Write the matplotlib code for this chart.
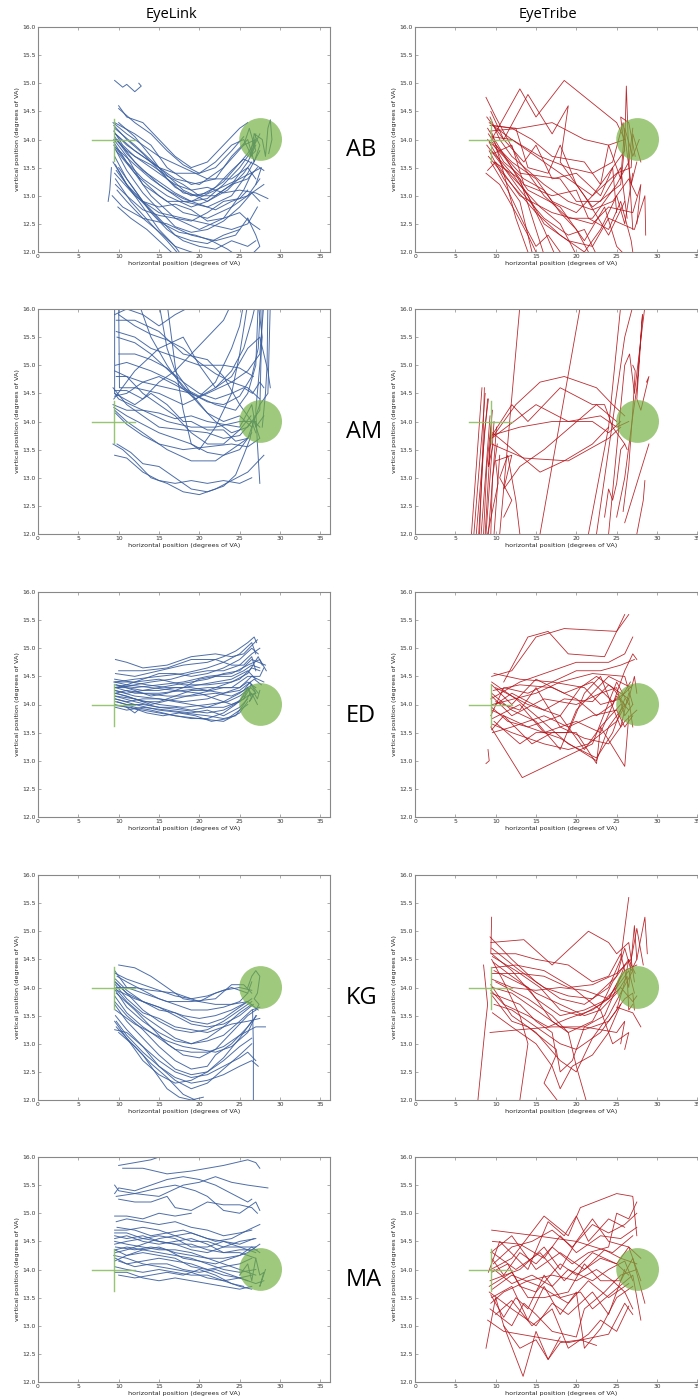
import matplotlib
matplotlib.use("Agg")
import matplotlib.pyplot as plt
from matplotlib.patches import Ellipse

# ---- data: gaze traces in degrees of visual angle, (x, y) per sample ----
subjects = ["AB", "AM", "ED", "KG", "MA"]
trackers = ["EyeLink", "EyeTribe"]

x_ticks = [0, 5, 10, 15, 20, 25, 30, 35]
y_ticks = [12.0, 12.5, 13.0, 13.5, 14.0, 14.5, 15.0, 15.5, 16.0]

fix_cross = [(6.7, 12.0, 14.0), (9.4, 13.62, 14.37)]   # (horiz x0, x1, y), (vert x, y0, y1)
target_xy = (27.6, 14.0)
target_size = (5.3, 0.76)

ab_eyelink = [
    [(9.6, 14.1), (11, 13.9), (14, 13.6), (17, 13.3), (20, 13.2), (23, 13.5), (25.5, 13.9), (27, 14.0), (26.5, 13.8), (27.5, 14.1)],
    [(9.5, 14.2), (12, 13.9), (15, 13.5), (18, 13.1), (21, 12.9), (24, 13.2), (26, 13.6), (27, 13.9)],
    [(9.8, 14.0), (12, 13.6), (15, 13.2), (18, 12.9), (21, 12.8), (24, 13.0), (26, 13.4), (27.5, 13.8)],
    [(9.4, 13.9), (11.5, 13.5), (14, 13.0), (17, 12.6), (20, 12.4), (23, 12.6), (25.5, 13.1), (26.5, 13.4)],
    [(9.3, 13.6), (11, 13.2), (13, 12.8), (15, 12.4), (17, 12.1), (18, 11.9)],
    [(9.6, 13.3), (11.5, 12.9), (14, 12.5), (16, 12.2), (17.5, 11.95)],
    [(10, 14.6), (11, 14.4), (13, 14.3), (15, 14.0), (17, 13.7), (19, 13.5), (21, 13.6), (23, 13.9), (25, 14.2), (26, 14.3)],
    [(9.5, 14.3), (12, 14.1), (14, 13.9), (16, 13.5), (19, 13.2), (22, 13.3), (24, 13.7), (26, 14.0), (26.8, 13.6), (27.5, 13.9), (26.8, 14.1)],
    [(9.7, 13.8), (12, 13.4), (15, 13.0), (18, 12.7), (21, 12.6), (24, 12.8), (26, 13.0), (27.5, 13.3)],
    [(9.5, 13.4), (12, 13.0), (15, 12.7), (18, 12.6), (21, 12.5), (24, 12.4), (26, 12.5), (27.2, 12.8)],
    [(9.2, 13.0), (10.5, 12.8), (13, 12.6), (16, 12.5), (19, 12.3), (22, 12.2), (24.5, 12.3), (26, 12.6)],
    [(9.4, 14.0), (11, 13.7), (13, 13.2), (16, 12.9), (19, 12.9), (22, 13.1), (25, 13.3), (27.7, 13.5), (27, 13.2)],
    [(9.6, 14.1), (12, 13.8), (15, 13.5), (17, 13.4), (20, 13.4), (22, 13.6), (24, 13.9), (25.5, 14.0), (26.5, 13.7), (27, 14.1)],
    [(9.5, 13.7), (11, 13.3), (13, 12.9), (15, 12.6), (17, 12.3), (19, 12.2), (21, 12.15), (23, 12.3), (25, 12.4)],
    [(10, 13.5), (12, 13.1), (14, 12.7), (16, 12.4), (18, 12.2), (20, 12.1), (22, 12.05), (24, 12.2), (26, 12.1), (27, 12.2)],
    [(9.8, 13.1), (11, 12.9), (13, 12.6), (15.5, 12.3), (17, 12.1), (19, 12.0), (21, 11.9)],
    [(9.3, 14.3), (11, 14.1), (13, 13.9), (15, 13.7), (18, 13.5), (21, 13.3), (24, 13.3), (26, 13.5), (27, 13.3)],
    [(9.4, 13.95), (11, 13.6), (13, 13.3), (16, 13.0), (19, 12.8), (21, 12.9), (23.5, 13.1), (25.5, 13.4), (26.5, 13.6)],
    [(8.7, 12.9), (8.9, 13.1), (9.1, 13.5)],
    [(9.5, 15.05), (10.5, 14.93), (11, 14.98), (12, 14.85), (12.8, 14.95), (12.5, 15.0)],
    [(10, 14.55), (12, 14.3), (14, 14.1), (16, 13.8), (18, 13.55), (20, 13.4), (22, 13.5), (24, 13.8), (25.5, 14.05)],
    [(9.6, 13.2), (11, 13.0), (13, 12.75), (15, 12.65), (17, 12.6), (19, 12.55), (21, 12.7), (23, 12.9), (25, 12.95), (26, 13.1)],
    [(9.5, 14.05), (11, 13.75), (13, 13.45), (15, 13.25), (17, 13.05), (19, 12.9), (21, 12.95), (23, 13.2), (25, 13.5), (26.5, 13.8)],
    [(9.7, 13.85), (12, 13.55), (14, 13.3), (16, 13.1), (18, 12.95), (20, 12.85), (22, 12.75), (24, 12.9), (26, 13.0), (28, 13.2)],
    [(9.9, 12.8), (11.5, 12.6), (13.5, 12.4), (15, 12.2), (16.5, 12.0)],
    [(25.5, 13.9), (26.2, 14.2), (27, 13.8), (26.3, 13.7), (26.8, 14.1), (27.8, 14.0), (28.2, 13.7), (28.5, 14.2), (28.8, 14.35), (29, 14.0), (28.6, 13.75)],
    [(9.6, 13.55), (11, 13.2), (13, 12.9), (15, 12.8), (17, 12.85), (19, 12.75), (21, 12.55), (23, 12.6), (25, 12.7), (26.5, 12.5), (27.5, 12.4)],
    [(9.4, 14.15), (10.5, 13.9), (12, 13.7), (14, 13.55), (16, 13.35), (18, 13.2), (20, 13.0), (22, 13.0), (24, 13.2), (26, 13.3), (27.2, 13.5)],
    [(26, 12.6), (27, 12.3), (27.5, 12.1), (26.8, 12.0)],
    [(9.5, 13.85), (11, 13.45), (13, 13.05), (15, 12.75), (17, 12.45), (19, 12.35), (21, 12.4), (23, 12.55), (25, 12.8), (26.5, 13.05), (27.5, 12.9)],
    [(9.4, 14.25), (11, 14.0), (13, 13.75), (15, 13.45), (17, 13.15), (19, 13.0), (21, 13.05), (23, 13.25), (24.5, 13.5), (26, 13.75), (26.8, 13.95)],
    [(9.7, 13.45), (11.5, 13.1), (13.5, 12.8), (15.5, 12.5), (17.5, 12.35), (19.5, 12.3), (21.5, 12.2), (23.5, 12.05), (24.5, 11.95)],
    [(10, 14.3), (12, 14.05), (14, 13.7), (16, 13.3), (18, 13.05), (20, 13.0), (22, 13.15), (24, 13.45), (25.5, 13.65), (27, 13.55), (28, 13.45)],
    [(9.6, 14.0), (11, 13.8), (13, 13.6), (15, 13.4), (17, 13.2), (19, 13.1), (21, 13.15), (23, 13.05), (25, 13.1), (27, 13.05), (28.5, 12.95)],
]

ab_eyetribe = [
    [(8.8, 14.75), (10, 14.4), (13, 13.6), (16, 13.0), (19, 12.6), (22, 12.6), (25, 13.2), (26.5, 13.6), (27, 14.2)],
    [(9, 14.2), (12, 13.5), (14, 13.0), (16, 12.4), (17.5, 11.9)],
    [(9.2, 13.8), (11, 13.3), (13, 12.9), (14.5, 12.0)],
    [(9.5, 14.0), (13, 14.9), (15, 14.4), (18.5, 15.05), (25, 14.3), (26, 14.0)],
    [(9.1, 13.7), (12, 13.2), (15, 12.7), (18, 12.3), (21, 12.0), (23, 12.4), (25, 13.0), (26, 12.5), (27, 13.4)],
    [(9.3, 14.25), (12.5, 14.2), (14, 13.5), (16.5, 13.4), (18, 13.9), (20, 13.2), (22, 12.8), (25.5, 13.2), (26, 13.9), (26.2, 14.95), (26.6, 13.3), (27, 12.4)],
    [(8.9, 13.9), (11, 13.5), (15.5, 12.8), (18, 12.5), (20, 11.95)],
    [(9.4, 14.5), (11, 14.0), (14, 14.8), (17, 14.1), (19, 14.6), (18, 13.6), (21, 13.0), (24, 12.3), (26, 12.9)],
    [(9.0, 13.45), (10, 13.6), (13, 13.0), (17, 12.7), (22, 12.5), (24, 12.8), (27, 12.7), (28, 13.2), (27.5, 12.5)],
    [(9.6, 14.1), (11, 13.4), (12.5, 12.6), (14, 12.0)],
    [(9.8, 13.6), (13, 13.3), (15, 12.4), (16, 11.95)],
    [(9.2, 14.3), (12, 14.0), (16, 13.6), (19, 13.3), (22, 13.0), (25, 13.4), (26.8, 13.5), (27, 14.1), (28, 13.6)],
    [(9.0, 14.0), (11, 13.7), (14, 13.1), (18, 12.8), (21, 12.2), (23.5, 12.8), (25, 12.1), (26, 11.95)],
    [(10, 13.9), (12, 13.6), (15, 13.3), (17, 12.9), (20, 12.7), (22, 13.0), (24, 13.4), (26, 13.8), (25.5, 14.4), (26.5, 14.3), (27.3, 13.7)],
    [(9.3, 14.15), (13, 14.2), (17, 14.3), (21, 14.0), (24, 13.9), (26, 14.0)],
    [(9.5, 13.8), (12, 13.4), (14, 13.0), (16, 12.5), (19, 12.2), (22, 12.1), (24, 12.6), (27.2, 12.4), (28.5, 13.0), (28.6, 12.3)],
    [(9.1, 14.1), (10.5, 13.8), (13, 13.4), (18, 13.3), (20, 12.9), (23, 12.9), (25.5, 13.5), (26.3, 12.6)],
    [(9.4, 13.6), (11.5, 13.1), (13.5, 12.5), (15, 12.1), (16.5, 12.3), (18, 12.0)],
    [(8.9, 14.4), (11, 14.0), (13.5, 13.6), (15, 13.9), (17, 13.3), (20, 13.4), (23, 13.0), (24.5, 13.5), (25, 12.7)],
    [(9.6, 14.25), (12, 14.2), (14.5, 14.0), (17, 13.7), (21, 13.6), (23, 13.2), (24, 13.9), (25.5, 13.3), (26, 14.2), (27, 13.7), (27.8, 14.0)],
    [(9.2, 13.95), (11, 13.5), (13, 13.1), (16, 12.6), (19, 12.3), (21, 12.4), (22.5, 11.95)],
    [(9.7, 13.75), (12, 13.9), (13.5, 13.2), (17, 13.0), (20, 13.1), (21.5, 12.6), (24, 12.4), (25.5, 12.9), (26.8, 12.2), (27, 12.0)],
    [(9.3, 14.4), (10.5, 14.0), (12, 13.7), (16, 13.2), (19, 12.9), (22, 12.75), (24.5, 12.9), (26.5, 13.3), (27.5, 13.0)],
    [(9.6, 13.95), (11, 13.6), (13.5, 13.3), (16, 13.1), (18, 12.7), (20, 12.4), (21.5, 12.0)],
    [(8.8, 13.4), (10.5, 13.2), (12.5, 12.7), (14, 12.3), (15, 12.0)],
    [(9.5, 14.05), (12, 14.0), (15.5, 13.7), (19, 13.5), (22, 13.4), (24.5, 13.6), (25.8, 14.3), (26.8, 13.2), (27.5, 13.6)],
]

am_eyelink = [
    [(9.5, 16.1), (9.5, 14.5), (10, 14.4), (13, 14.2), (16, 14.0), (19, 13.9), (22, 13.9), (25, 14.0), (27, 14.0)],
    [(10, 16.1), (10.1, 14.6), (12, 14.6), (15, 14.5), (18, 14.3), (21, 14.5), (24, 14.7), (26, 14.9), (27.5, 15.2), (28, 16.1)],
    [(9.7, 15.8), (12, 15.8), (15, 15.6), (18, 15.2), (21, 15.1), (23, 14.8), (25, 14.3), (26.5, 14.0), (27, 13.8)],
    [(9.8, 15.5), (12, 15.4), (14, 15.2), (17, 14.8), (20, 14.3), (22, 14.0), (24, 13.8), (26, 13.9), (27.5, 14.2), (27.8, 16.1)],
    [(9.6, 15.0), (11, 15.05), (14, 14.9), (17, 14.7), (19.5, 14.4), (22, 14.6), (24, 14.9), (25.5, 15.3), (26.5, 15.8), (27, 16.1)],
    [(9.3, 14.6), (11, 14.3), (13, 14.1), (15, 13.9), (18, 13.85), (21, 13.8), (23, 13.7), (25, 13.75), (26.5, 14.0)],
    [(9.5, 14.2), (11, 14.0), (13, 13.8), (16, 13.5), (19, 13.3), (22, 13.3), (24, 13.5), (26, 13.7), (27.5, 14.3), (28.5, 14.5), (28.8, 16.1)],
    [(9.3, 13.6), (10.5, 13.5), (12, 13.3), (14, 13.0), (16, 12.9), (18, 12.75), (20, 12.7), (22, 12.8), (24, 12.95), (26, 13.1), (28, 13.4)],
    [(9.5, 13.4), (11, 13.35), (13, 13.1), (15, 12.95), (17, 12.9), (19, 12.95), (21, 12.9), (23, 12.95), (25, 12.9), (26.5, 13.0)],
    [(9.7, 14.8), (11, 14.8), (13, 14.7), (16, 14.6), (19, 14.5), (22, 14.3), (24.5, 14.2), (26, 14.5), (27, 15.0), (27.3, 16.1)],
    [(9.5, 15.9), (11, 16.0), (13, 15.9), (15, 15.7), (17, 15.9), (19, 16.05)],
    [(16, 16.1), (17, 15.0), (18, 14.2), (19, 13.6), (20, 13.5), (22, 13.9), (24, 14.5), (25, 15.2), (26, 16.1)],
    [(9.4, 14.4), (12, 14.9), (15, 15.3), (18, 15.5), (20, 15.0), (22, 14.6), (24, 14.8), (26, 15.3), (27.5, 15.5), (28.5, 14.9), (28.8, 14.6)],
    [(9.6, 14.15), (11, 13.95), (13, 13.75), (15, 13.6), (18, 13.5), (21, 13.55), (24, 13.6), (26, 13.55), (27.5, 13.7), (26.8, 14.0), (27.5, 13.9)],
    [(9.5, 14.5), (12, 14.3), (14, 14.5), (16, 14.3), (18, 14.0), (19, 14.0), (21, 13.85), (23, 13.85), (24.5, 13.65), (26, 13.7)],
    [(9.5, 14.55), (11, 14.55), (13, 14.4), (15, 14.7), (17, 14.9), (19, 15.2), (21, 15.5), (23, 15.8), (24, 16.1)],
    [(27.5, 12.9), (27.2, 13.6), (27.0, 14.2), (27.5, 15.0), (27.8, 15.5), (27.3, 16.1)],
    [(28.5, 16.1), (28.4, 15.0), (28.2, 14.5), (27.8, 13.9)],
    [(9.8, 13.6), (11.5, 13.45), (13, 13.25), (15, 13.2), (17, 13.0), (19, 12.8), (21, 12.75), (23, 12.85), (24.5, 13.05), (25.5, 13.4), (26.3, 13.7), (26.8, 14.1)],
    [(9.3, 14.3), (11, 14.2), (13, 14.2), (15, 14.15), (17, 14.05), (19, 14.1), (21, 14.0), (23, 13.95), (25, 13.9), (26.5, 14.3), (27, 13.9), (28, 14.1)],
    [(10, 15.2), (12, 15.2), (14, 15.1), (16, 14.95), (18, 14.7), (20, 14.5), (22, 14.4), (24, 14.5), (25.5, 14.6), (26.6, 14.5), (27.5, 14.7), (28, 14.6)],
    [(9.5, 14.9), (11, 14.8), (13, 14.5), (15, 14.3), (17, 14.1), (19, 13.8), (21, 13.6), (23, 13.6), (25, 13.85), (26.4, 14.1)],
    [(9.7, 15.6), (12, 15.5), (14, 15.3), (17, 15.15), (20, 15.0), (23, 15.0), (25, 14.95), (26.7, 14.8)],
    [(12.5, 16.1), (14, 15.5), (16, 15.0), (18, 14.6), (20, 14.45), (22, 14.7), (24, 15.3), (25, 15.7), (25.5, 16.1)],
    [(9.5, 14.45), (11, 14.5), (13, 14.7), (15, 14.8), (17, 14.65), (19, 14.5), (21, 14.35), (23, 14.3), (25, 14.45), (26.5, 14.8), (27.3, 15.3), (27.6, 16.1)],
    [(9.4, 14.25), (11, 14.1), (13, 13.95), (15, 13.8), (17, 13.7), (19, 13.6), (21, 13.45), (23, 13.4), (25, 13.5), (26.5, 13.8)],
    [(10, 15.9), (12, 15.7), (14, 15.55), (16, 15.45), (18, 15.3), (20, 15.05), (22, 14.85), (24, 14.7), (26, 14.6), (27.5, 14.4)],
    [(15, 16.1), (16, 15.3), (17, 14.9), (19, 14.5), (21, 14.15), (23, 14.0), (25, 14.1), (26.5, 13.9)],
]

am_eyetribe = [
    [(7.0, 12), (8.3, 14.6)],
    [(7.3, 12), (8.7, 14.5)],
    [(7.6, 12), (9.0, 14.4)],
    [(7.9, 12), (8.6, 13.8), (9.1, 14.4)],
    [(8.2, 12), (9.3, 14.1)],
    [(8.5, 12), (8.9, 13.2), (9.6, 14.2)],
    [(8.8, 12), (9.8, 14.0)],
    [(9.1, 12), (10.1, 13.9)],
    [(9.4, 12), (9.6, 13.0), (10.2, 13.6)],
    [(9.8, 12), (10.5, 13.4)],
    [(8.0, 12), (8.4, 13.5), (8.6, 14.6)],
    [(8.7, 12), (9.5, 14.0), (9.1, 13.2), (9.7, 13.6)],
    [(9.0, 12), (10.3, 12.9), (10.0, 13.3)],
    [(9.5, 13.7), (12.5, 14.3), (15.5, 14.7), (18.5, 14.8), (22.5, 14.6), (24.5, 14.3), (26, 14.1)],
    [(9.5, 13.7), (15, 14.3), (19, 14.0), (23, 14.1), (25, 13.9), (26.5, 14.0)],
    [(9.4, 13.75), (13, 13.9), (17, 14.0), (22, 14.0), (24, 13.8), (25.5, 14.0)],
    [(9.6, 13.8), (15.5, 13.1), (18.5, 13.3), (22, 13.6), (24, 13.9)],
    [(9.5, 13.6), (13.5, 13.35), (19, 13.3), (24, 13.7), (25.5, 13.9)],
    [(10, 13.3), (12, 13.4), (11, 12.8), (13, 13.2), (16, 13.5), (22.5, 14.3), (25, 14.0)],
    [(9.3, 13.7), (12, 14.3), (14, 14.0), (18, 14.6), (22, 14.3), (23.5, 14.3), (24.5, 13.9), (26, 13.6)],
    [(10.5, 12.0), (13, 16.05)],
    [(11, 12.3), (12, 12.6), (10.5, 13.0), (11.5, 13.4), (12.5, 12.6), (13, 12.0)],
    [(15.5, 12.0), (20.5, 16.05)],
    [(21.5, 12.0), (24, 13.9), (25.5, 16.05)],
    [(22.5, 12.0), (25, 14.5), (26, 15.5), (27, 16.05)],
    [(24, 12.0), (25, 13.5), (26, 15.0), (26.6, 15.2), (27.2, 14.5), (28.5, 16.05)],
    [(25, 12.3), (26, 13.0), (27, 14.1), (27.5, 14.6), (28.2, 15.9), (27.5, 14.4), (28, 14.2), (29, 14.8), (28.7, 14.7)],
    [(26, 12.2), (27.5, 12.9), (29, 13.6)],
    [(27.5, 12.0), (28.3, 12.6), (28.5, 12.95)],
    [(23.5, 12.3), (24, 12.8), (24.5, 12.6), (25, 12.9), (25.5, 13.5), (26, 13.6), (26.3, 13.5)],
    [(25.8, 12.4), (26.5, 13.2), (27, 14.2), (27.3, 14.9), (27, 15.0)],
]

ed_eyelink = [
    [(9.6, 14.8), (11, 14.75), (13, 14.65), (16, 14.7), (19, 14.85), (22, 14.9), (24, 14.85), (25.5, 14.9), (26.5, 15.05), (27.2, 15.15)],
    [(9.6, 14.4), (12, 14.45), (15, 14.5), (18, 14.55), (21, 14.65), (23, 14.75), (25, 14.9), (26.5, 15.1), (27, 14.9)],
    [(9.5, 14.35), (12, 14.3), (15, 14.35), (18, 14.4), (21, 14.5), (24, 14.55), (26, 14.7), (27.5, 14.8), (28.3, 14.6)],
    [(9.6, 14.3), (12, 14.2), (15, 14.2), (18, 14.25), (21, 14.3), (24, 14.3), (26, 14.5), (27.5, 14.5), (28, 14.65)],
    [(9.5, 14.25), (12, 14.15), (15, 14.1), (18, 14.05), (21, 14.1), (23, 14.2), (25, 14.3), (26.5, 14.5), (28, 14.4)],
    [(9.7, 14.2), (12, 14.1), (15, 14.0), (18, 13.95), (21, 14.0), (23.5, 14.05), (25, 14.15), (26.4, 14.3), (27, 14.2)],
    [(9.5, 14.15), (12, 14.05), (15, 13.95), (18, 13.9), (21, 13.85), (23, 13.9), (25, 14.05), (26, 14.3), (26.5, 14.1)],
    [(9.6, 14.1), (12, 14.0), (15, 13.9), (18, 13.85), (21, 13.8), (23, 13.75), (24.5, 13.8), (25.5, 14.0), (26.3, 14.2)],
    [(9.8, 14.05), (12, 13.95), (14, 13.9), (17, 13.8), (20, 13.75), (23, 13.7), (25, 13.85), (26, 14.05)],
    [(11, 13.95), (12, 13.85), (12.4, 13.9)],
    [(9.5, 14.3), (11, 14.35), (14, 14.3), (17, 14.25), (20, 14.2), (22, 14.1), (24, 14.0), (25.5, 14.1), (26.5, 14.35), (27.3, 14.2)],
    [(9.4, 14.4), (12, 14.4), (15, 14.45), (18, 14.35), (21, 14.35), (24, 14.4), (26, 14.55), (27.3, 14.85), (27.8, 14.7)],
    [(9.6, 14.55), (12, 14.5), (15, 14.6), (18, 14.7), (21, 14.75), (23, 14.85), (24.5, 14.95), (26, 15.1), (26.8, 15.2), (27.1, 15.1)],
    [(10, 14.6), (13, 14.6), (16, 14.65), (19, 14.8), (22, 14.8), (24, 14.7), (25.5, 14.7), (26.5, 14.85), (27, 14.6)],
    [(9.6, 14.2), (11, 14.25), (13, 14.2), (16, 14.15), (19, 14.15), (22, 14.2), (24, 14.15), (25.5, 14.25), (26.3, 14.4), (27, 14.2), (26, 14.15)],
    [(9.5, 14.1), (11, 14.05), (13, 14.1), (15, 14.1), (17, 14.05), (19, 14.0), (21, 13.95), (23, 13.95), (25, 14.05), (26.5, 14.2), (27.2, 14.0)],
    [(9.7, 14.35), (12, 14.25), (14, 14.15), (16, 14.2), (18, 14.3), (20, 14.45), (22, 14.5), (24, 14.5), (25.5, 14.6), (26.5, 14.7), (27.5, 14.65)],
    [(9.5, 14.0), (11, 13.95), (13, 13.9), (15, 13.85), (17, 13.8), (19, 13.75), (21, 13.75), (23, 13.85), (24.5, 14.0), (25.5, 14.15)],
    [(9.9, 14.3), (12, 14.35), (14, 14.4), (16.5, 14.45), (19, 14.55), (21, 14.6), (23, 14.6), (25, 14.7), (26.5, 14.9), (27.5, 15.0)],
    [(9.5, 14.45), (11.5, 14.4), (13.5, 14.35), (16, 14.3), (18, 14.3), (20, 14.35), (22, 14.4), (24, 14.45), (26, 14.6), (27, 14.45)],
    [(9.6, 14.25), (11, 14.2), (13, 14.25), (15, 14.3), (17, 14.35), (19, 14.4), (21, 14.45), (23, 14.55), (25, 14.6), (26.5, 14.8), (28.2, 14.7)],
    [(25.5, 14.1), (26, 14.3), (26.6, 14.15), (26.2, 14.05), (26.8, 14.2), (27.2, 14.1), (27.5, 14.25)],
    [(9.6, 14.15), (12, 14.1), (14, 14.0), (17, 14.1), (20, 14.2), (23, 14.3), (25, 14.3), (26, 14.4), (27, 14.3)],
    [(9.6, 13.95), (11, 13.9), (13, 13.95), (16, 13.9), (19, 13.85), (21, 13.9), (23, 13.8), (25, 13.95), (26, 14.1)],
    [(9.5, 14.3), (11, 14.3), (13, 14.25), (15, 14.25), (17, 14.3), (19, 14.3), (21, 14.25), (23, 14.35), (25, 14.45), (26.5, 14.65), (27.5, 14.6)],
    [(9.6, 14.05), (11, 14.0), (13, 14.0), (15, 13.95), (17, 13.95), (19, 13.9), (21, 13.95), (23, 14.05), (25, 14.2), (26.5, 14.35)],
    [(9.5, 14.2), (11, 14.15), (13, 14.05), (15, 14.05), (17, 14.15), (19, 14.25), (21, 14.25), (23, 14.2), (25, 14.25), (26.8, 14.45), (27.7, 14.35)],
    [(9.5, 14.4), (11, 14.35), (13, 14.45), (15, 14.55), (17, 14.55), (19, 14.5), (21, 14.55), (23, 14.65), (25, 14.8), (26.5, 15.0), (27.3, 14.9)],
    [(9.7, 13.98), (11.5, 13.95), (13.5, 13.85), (15.5, 13.8), (17.5, 13.85), (19.5, 13.8), (21.5, 13.7), (23.5, 13.75), (25, 13.9), (26, 14.0)],
]

ed_eyetribe = [
    [(9.5, 14.5), (12, 14.6), (15, 15.2), (18.5, 15.35), (25, 15.3), (26.5, 15.6)],
    [(11, 14.4), (14, 15.2), (16.5, 15.3), (19, 14.9), (23.5, 14.85), (25, 15.3), (26, 15.6)],
    [(9.4, 14.1), (13, 14.4), (17, 14.6), (20, 14.75), (24, 14.75), (26, 14.9), (27, 15.2)],
    [(9.4, 13.6), (13.3, 12.7), (22, 13.3), (25, 14.4), (26.5, 14.0)],
    [(9.6, 14.0), (15, 14.2), (18, 14.4), (22, 14.55), (26, 14.5), (27, 14.0)],
    [(9.5, 13.9), (14, 13.6), (18, 13.4), (22.5, 13.0), (24, 13.6), (26, 14.0)],
    [(10, 14.3), (14, 14.0), (18, 13.8), (21, 13.2), (23, 13.6), (26, 12.9), (26.5, 13.8)],
    [(9.5, 14.2), (12, 13.9), (15, 13.7), (18, 13.2), (20, 13.9), (24, 14.5), (26.8, 14.3)],
    [(9.8, 13.7), (13, 13.3), (15, 13.5), (19, 13.5), (21, 14.2), (23, 14.5), (25.5, 13.6), (26.5, 14.2)],
    [(9.5, 14.15), (12, 13.8), (16, 14.1), (20, 14.0), (23, 14.2), (25, 14.3), (26, 13.8), (27, 14.0)],
    [(9.4, 13.8), (11, 14.3), (14, 14.2), (17, 14.4), (21, 14.3), (23, 14.0), (25.5, 14.1), (26.7, 14.4)],
    [(9.6, 13.5), (12, 13.6), (16, 13.8), (19, 13.6), (22, 13.8), (25, 13.9), (26, 13.6), (27, 13.8)],
    [(10, 14.05), (13, 13.9), (15, 14.3), (18, 13.6), (21, 13.4), (24, 13.3), (26, 13.7), (27.5, 13.9)],
    [(9.5, 14.4), (12.5, 14.1), (15, 13.8), (19, 13.3), (22.5, 13.05), (24.5, 13.5), (26, 14.1)],
    [(9.6, 13.65), (12, 13.5), (16, 13.3), (19, 13.2), (21.5, 13.3), (25, 13.7), (26.5, 14.1), (27, 13.6)],
    [(9.7, 14.25), (13, 14.35), (17, 14.3), (20, 14.1), (22.5, 13.8), (24.5, 14.0), (25.5, 14.4), (26, 14.6), (27, 14.9), (27.5, 14.8)],
    [(9.5, 13.95), (11.5, 13.7), (14, 13.6), (18, 13.8), (20.5, 14.3), (22.5, 14.5), (24.5, 14.3), (26, 14.0)],
    [(9.8, 14.55), (13, 14.45), (17, 14.4), (20, 14.6), (23, 14.6), (25.5, 14.7), (27.2, 14.8)],
    [(9.05, 13.2), (9.2, 13.0), (8.8, 12.95)],
    [(9.5, 13.55), (11, 13.8), (14.5, 13.3), (17, 13.5), (20, 13.5), (22.5, 12.95), (23, 13.6), (25.5, 14.0)],
    [(10, 14.0), (12, 14.2), (16, 13.9), (18.5, 14.1), (22, 14.05), (24, 14.35), (26.5, 14.1), (27.2, 14.5), (27.5, 14.2)],
    [(9.5, 14.35), (12, 14.0), (15, 14.45), (18.5, 14.2), (22, 14.4), (24.5, 14.05), (26, 14.2), (27, 14.35)],
    [(9.6, 13.75), (13, 14.0), (16, 13.5), (20, 13.7), (23, 13.5), (25, 14.15), (26.5, 13.9)],
]

kg_eyelink = [
    [(9.5, 14.3), (11, 14.0), (13, 13.9), (16, 13.75), (19, 13.75), (22, 13.8), (24, 14.05), (25.5, 14.05), (26.5, 13.9)],
    [(10, 14.4), (12, 14.35), (14, 14.2), (16, 14.0), (18, 13.8), (20, 13.75), (22, 13.9), (24, 14.0), (26, 13.9)],
    [(9.6, 14.1), (11, 13.9), (13, 13.6), (15, 13.4), (17, 13.25), (19, 13.2), (21, 13.25), (23, 13.4), (25, 13.6), (26.5, 13.75)],
    [(9.5, 14.0), (11, 13.75), (13, 13.5), (15, 13.3), (17, 13.1), (19, 13.0), (21, 13.1), (23, 13.3), (25, 13.55), (26.5, 13.7)],
    [(9.7, 13.9), (12, 13.6), (14, 13.3), (16, 13.0), (18, 12.8), (20, 12.75), (22, 12.9), (24, 13.2), (26, 13.5), (27, 13.6)],
    [(9.5, 13.7), (11, 13.4), (13, 13.1), (15, 12.8), (17, 12.55), (19, 12.45), (21, 12.5), (23, 12.75), (25, 13.1), (26.5, 13.4)],
    [(9.6, 13.5), (11, 13.25), (13, 12.95), (15, 12.6), (17, 12.35), (19, 12.2), (21, 12.3), (23, 12.55), (25, 12.8), (26.5, 13.0)],
    [(9.7, 13.3), (11, 13.1), (13, 12.8), (14.5, 12.5), (16, 12.2), (17.5, 12.05), (19, 12.0), (20.5, 12.05)],
    [(9.5, 13.25), (11, 13.2), (13, 12.95), (15, 12.7), (17, 12.5), (19, 12.4), (21, 12.45), (23, 12.6), (25, 12.75), (26, 12.85), (27, 12.7)],
    [(9.8, 14.2), (11, 14.1), (13, 13.95), (15, 13.8), (17, 13.7), (19, 13.6), (21, 13.6), (23, 13.65), (25, 13.75), (26, 13.9), (26.5, 14.1)],
    [(26.7, 11.95), (26.7, 13.0), (26.6, 13.6)],
    [(9.6, 14.05), (11, 13.8), (13, 13.55), (15, 13.45), (17, 13.3), (19, 13.25), (21, 13.2), (23, 13.3), (24, 13.35), (26, 13.4), (27.5, 13.45)],
    [(9.5, 13.85), (11, 13.55), (13, 13.3), (15, 13.1), (17, 12.9), (19, 12.85), (21, 12.85), (23, 12.95), (25, 13.15), (27, 13.3), (28.2, 13.3)],
    [(26, 14.0), (26.5, 14.2), (27, 14.3), (27.5, 14.2), (27.2, 13.9), (26.8, 13.8), (27.4, 13.7), (27, 13.6)],
    [(9.6, 13.6), (12, 13.35), (14, 13.2), (16, 13.05), (18, 12.95), (20, 12.9), (22, 12.85), (24, 12.95), (26, 13.2), (27, 13.5)],
    [(9.6, 14.15), (11, 13.95), (13, 13.75), (15, 13.6), (17, 13.55), (19, 13.4), (21, 13.35), (23, 13.45), (25, 13.65), (26.5, 13.8)],
    [(9.5, 13.4), (11, 13.1), (13, 12.7), (15, 12.45), (17, 12.3), (19, 12.35), (21, 12.5), (23, 12.7), (25, 12.95), (26.5, 13.1)],
    [(10, 13.2), (12, 12.95), (14, 12.65), (16, 12.4), (18, 12.1), (19.5, 12.0)],
    [(9.8, 13.95), (12, 13.8), (14, 13.7), (16, 13.6), (18, 13.5), (20, 13.45), (22, 13.5), (24, 13.6), (26, 13.75), (27.3, 13.6)],
    [(9.5, 13.75), (11, 13.5), (13, 13.25), (15, 12.95), (17, 12.7), (19, 12.55), (21, 12.6), (22, 12.8), (24, 13.0), (26, 13.3), (27.1, 13.5)],
    [(9.7, 14.0), (12, 14.0), (14, 13.95), (17, 13.9), (20, 13.75), (22, 13.7), (24, 13.7), (26, 13.75)],
    [(9.6, 13.95), (11, 13.65), (13, 13.4), (15, 13.2), (17, 13.05), (19, 13.0), (21, 13.05), (23, 13.15), (25, 13.4), (26.5, 13.6), (27.5, 13.65)],
    [(9.5, 14.1), (11, 13.9), (13, 13.75), (15, 13.65), (17, 13.5), (19, 13.35), (21, 13.3), (23, 13.35), (25, 13.5), (26.7, 13.7)],
    [(9.7, 13.4), (11, 13.15), (13, 12.85), (15, 12.6), (17, 12.4), (19, 12.3), (21, 12.35), (23, 12.45), (25, 12.6), (26.5, 12.7), (27.3, 12.6)],
    [(9.6, 14.25), (11, 14.15), (13, 14.05), (15, 13.95), (17, 13.85), (19, 13.8), (21, 13.85), (23, 13.95), (25, 14.0), (26.5, 13.95)],
]

kg_eyetribe = [
    [(9.3, 14.9), (12, 14.5), (15, 14.1), (18, 13.8), (21, 13.7), (24, 14.0), (25.5, 14.5), (26.5, 15.6)],
    [(9.4, 14.8), (13.5, 14.85), (17, 14.4), (21.5, 15.0), (24, 14.8), (25, 14.6), (26.5, 14.8), (27.2, 14.1)],
    [(9.5, 14.6), (12, 14.3), (15, 13.8), (18, 13.5), (21, 13.6), (24, 13.8), (26, 14.3), (27.5, 14.4)],
    [(9.5, 14.25), (13, 14.25), (16, 14.2), (19, 14.0), (22, 14.05), (25, 14.25), (26.8, 14.5), (27.5, 15.05), (28.3, 14.4)],
    [(9.6, 14.0), (12, 13.9), (15, 13.6), (18, 13.3), (21, 13.25), (24, 13.4), (26, 13.8), (27, 13.9), (27.2, 13.6)],
    [(9.8, 13.7), (12, 13.6), (15, 13.3), (18, 13.0), (20, 12.9), (23, 13.2), (25, 13.6), (26, 14.1), (26.5, 14.5)],
    [(9.3, 13.2), (13, 13.25), (17, 13.3), (21, 13.3), (25, 13.2), (26, 13.4), (25.5, 13.0)],
    [(8.5, 14.4), (9, 13.7), (8.7, 13.3), (7.8, 12.0)],
    [(9.5, 14.5), (11, 14.1), (13, 13.5), (14, 13.0), (13, 12.0)],
    [(9.4, 13.9), (13, 13.7), (15, 13.4), (17, 13.2), (17.5, 12.8), (16, 12.3), (17.6, 12.0)],
    [(10, 14.1), (14, 13.8), (17, 13.5), (19, 13.2), (20, 12.6), (21.2, 12.0)],
    [(9.5, 14.35), (12.5, 14.4), (16, 14.3), (19.5, 14.0), (23, 13.6), (25, 13.9), (26.3, 14.2), (26.5, 13.6), (27, 13.7)],
    [(9.6, 13.85), (12, 13.4), (14, 13.3), (17.5, 12.9), (18, 12.5), (19.5, 12.7), (21, 13.3), (23.5, 13.5), (25, 14.0), (26, 14.4)],
    [(9.5, 15.25), (9.4, 14.6), (12.5, 14.6), (15, 14.5), (19, 14.4), (22, 14.1), (24, 14.2), (25.5, 14.6), (26.5, 14.0), (27.2, 15.1), (27.5, 14.5)],
    [(9.7, 14.45), (12, 14.2), (15, 13.9), (18, 13.7), (21, 13.5), (23, 13.6), (24.5, 13.0), (26.5, 13.2), (26, 12.9)],
    [(9.4, 14.05), (12, 13.5), (15, 13.2), (18, 12.7), (20, 12.5), (22, 13.1), (24, 13.5), (25.5, 13.9), (27, 14.3)],
    [(9.5, 14.7), (13, 14.3), (16, 14.0), (19, 13.85), (22, 13.8), (25, 14.2), (26, 14.7), (26.8, 14.3), (27.5, 14.5), (28.5, 15.25), (28.8, 14.6)],
    [(9.6, 13.55), (12, 13.3), (15, 13.0), (17, 12.6), (18, 12.2), (19.5, 12.6), (22, 12.8), (24, 13.2), (25.5, 13.7)],
    [(9.5, 14.15), (12, 14.0), (15, 13.95), (18, 14.0), (21, 13.95), (24, 13.8), (25.5, 14.0), (27, 13.75), (27.5, 13.85)],
    [(25, 13.65), (27, 13.55), (28, 13.3)],
    [(9.8, 14.3), (14, 14.0), (17, 13.4), (19, 13.2), (22, 13.4), (23.5, 13.8), (24.5, 14.1), (26.5, 14.5), (27.3, 14.25)],
    [(9.6, 14.55), (12.5, 14.3), (15.5, 14.0), (18, 13.6), (20.5, 13.5), (23, 13.7), (25, 14.0), (26.5, 14.3), (27.2, 13.9)],
    [(9.4, 13.95), (11, 13.7), (14, 13.5), (16.5, 13.3), (19, 13.45), (22, 13.6), (24, 13.8), (25.5, 14.2)],
]

ma_eyelink = [
    [(10, 15.85), (12, 15.9), (14, 15.95), (16, 16.05)],
    [(10.5, 15.8), (13, 15.8), (16, 15.7), (19, 15.75), (21, 15.8), (23, 15.85), (24.5, 15.9), (26, 15.95), (27, 15.9), (27.5, 15.8)],
    [(9.5, 15.35), (10, 15.45), (12, 15.4), (14, 15.5), (16, 15.6), (18, 15.65), (20, 15.6), (22, 15.5), (24, 15.35), (26, 15.2), (26.5, 15.25)],
    [(9.5, 15.5), (10, 15.4), (12, 15.35), (15, 15.3), (18, 15.5), (20, 15.55), (22, 15.65), (24, 15.55), (26, 15.5), (28.5, 15.45)],
    [(10, 15.25), (12, 15.2), (14, 15.2), (16, 15.3), (17, 15.1), (19, 15.05), (21, 15.2), (23, 15.15), (25, 15.15), (26.5, 15.1), (27.2, 15.0)],
    [(9.7, 15.3), (12, 15.35), (15, 15.45), (17, 15.5), (19.5, 15.4), (21, 15.3), (23, 15.05), (25, 15.0), (27, 15.2), (27.5, 15.05)],
    [(9.5, 14.95), (11, 14.95), (13, 14.9), (15, 15.0), (17, 14.95), (19, 15.0)],
    [(9.5, 14.7), (11, 14.7), (13, 14.75), (15, 14.7), (17, 14.6), (19, 14.5), (21, 14.5), (23, 14.4), (25, 14.4), (27, 14.4)],
    [(9.5, 14.6), (11, 14.55), (13, 14.6), (15, 14.5), (17, 14.45), (19, 14.45), (21, 14.35), (23, 14.3), (25, 14.35), (27.2, 14.35)],
    [(9.6, 14.4), (12, 14.35), (14, 14.4), (16, 14.35), (18, 14.2), (20, 14.15), (22, 14.1), (24, 14.2), (26, 14.3), (27.5, 14.45)],
    [(9.5, 14.35), (11, 14.25), (13, 14.3), (15, 14.25), (17, 14.2), (19, 14.05), (21, 14.0), (23, 14.05), (25, 14.1), (26.5, 14.2)],
    [(9.6, 14.2), (11, 14.1), (13, 14.15), (15, 14.2), (17, 14.15), (19, 14.1), (21, 14.0), (23, 13.9), (25, 13.85), (27, 13.75), (28, 13.8)],
    [(9.5, 14.05), (11, 14.0), (13, 13.95), (15, 14.0), (17, 13.95), (19, 13.9), (21, 13.9), (23, 13.8), (25, 13.7), (26.5, 13.65)],
    [(10, 13.9), (12, 13.85), (14, 13.9), (16, 13.95), (18, 13.9), (20, 14.0), (22, 13.9), (24, 13.75), (25.5, 13.7)],
    [(9.5, 14.5), (11, 14.45), (13, 14.4), (15, 14.35), (17, 14.35), (19, 14.3), (21, 14.2), (23, 14.2), (25, 14.25), (26.5, 14.4), (27.5, 14.3)],
    [(9.8, 14.75), (12, 14.7), (14, 14.6), (16, 14.65), (18, 14.7), (20, 14.6), (22, 14.5), (24, 14.55), (26, 14.7), (27.5, 14.8)],
    [(9.6, 14.3), (11, 14.35), (13, 14.45), (15, 14.55), (17, 14.6), (19, 14.65), (21, 14.55), (23, 14.5), (25, 14.4), (27, 14.3)],
    [(9.5, 14.15), (11, 14.25), (13, 14.35), (15, 14.4), (17, 14.3), (19, 14.25), (21, 14.2), (23, 14.1), (25, 14.0), (27, 13.9)],
    [(25, 13.9), (26, 14.1), (26.5, 13.8), (27, 14.2), (27.5, 13.9), (28, 13.95), (27.5, 13.7), (28.2, 14.0)],
    [(9.5, 14.45), (11, 14.5), (13, 14.55), (15, 14.5), (17, 14.45), (19, 14.35), (21, 14.3), (23, 14.4), (25, 14.5), (27, 14.55)],
    [(9.7, 14.85), (11, 14.9), (13, 14.85), (15, 14.8), (17, 14.85), (19, 14.75), (21, 14.7), (23, 14.6), (25, 14.65), (26.5, 14.7)],
    [(9.4, 14.25), (11, 14.2), (13, 14.1), (15, 14.05), (17, 14.0), (19, 13.95), (21, 13.85), (23, 13.8), (25, 13.85), (26.5, 13.9)],
    [(9.5, 13.95), (11, 13.95), (13, 13.85), (15, 13.8), (17, 13.85), (19, 13.8), (21, 13.75), (23, 13.7), (25, 13.65), (26.5, 13.7)],
    [(9.5, 14.55), (11, 14.6), (13, 14.5), (15, 14.45), (17, 14.5), (19, 14.55), (21, 14.45), (23, 14.3), (25, 14.3), (27, 14.2)],
    [(9.6, 14.35), (11, 14.4), (13, 14.35), (15, 14.3), (17, 14.25), (19, 14.2), (21, 14.1), (23, 14.0), (25, 13.95), (27, 14.0)],
    [(9.5, 14.65), (11, 14.65), (13, 14.55), (15, 14.6), (17, 14.55), (19, 14.4), (21, 14.4), (23, 14.5), (25, 14.45), (26.8, 14.55)],
    [(10, 14.15), (12, 14.05), (14, 14.1), (16, 14.1), (18, 14.0), (20, 13.95), (22, 14.0), (24, 13.9), (26, 13.8)],
]

ma_eyetribe = [
    [(9.5, 14.7), (15, 14.6), (20, 14.5), (24.5, 14.3), (27, 14.6)],
    [(9.4, 14.0), (12, 14.2), (16, 14.95), (19, 14.6), (20.5, 15.1), (25, 15.35), (27, 15.3), (27.5, 14.6)],
    [(9.2, 13.6), (12, 13.3), (15, 13.0), (17, 13.4), (19, 13.2), (22, 13.6), (24, 13.2), (26, 14.0)],
    [(9.3, 13.8), (13, 14.0), (16, 14.4), (18, 14.0), (20, 14.5), (22, 14.9), (24, 14.5), (26.5, 14.4), (28, 14.2)],
    [(9.0, 13.1), (11, 12.9), (13, 12.85), (15, 12.8), (19, 12.7), (24, 12.85), (26, 13.4), (27, 13.2)],
    [(8.8, 12.6), (10, 13.5), (11, 13.0), (13.4, 12.1), (15, 12.9), (16.5, 12.4), (18, 12.8)],
    [(9.6, 14.3), (12.5, 14.0), (15.5, 14.3), (18.5, 13.8), (22, 14.3), (25, 14.1), (26.5, 13.9)],
    [(9.5, 13.5), (12, 13.7), (14, 13.1), (16, 13.7), (18, 13.2), (20, 13.6), (21, 12.6), (23, 12.95), (25, 13.5), (27, 13.7)],
    [(9.7, 14.1), (12, 14.4), (14.5, 14.5), (17, 14.7), (19.5, 14.4), (22, 14.8), (24, 14.65), (26, 14.8), (27.5, 15.0)],
    [(9.4, 13.4), (11, 13.6), (14, 13.8), (17, 13.9), (20, 13.8), (22.5, 14.0), (24.5, 13.8), (26, 13.6), (27, 13.3)],
    [(9.5, 13.95), (11.5, 14.1), (13, 13.7), (15, 13.6), (18, 14.1), (20, 13.9), (23, 14.2), (25, 14.1), (26.5, 14.4), (28, 13.8)],
    [(9.3, 13.3), (12, 13.0), (13.5, 13.4), (15, 13.2), (17, 12.9), (20, 12.8), (21, 13.3), (23.5, 13.6), (25.5, 13.9), (27.5, 14.0)],
    [(9.6, 14.5), (13, 14.45), (16, 14.2), (18, 14.6), (20, 14.3), (23, 14.6), (25.5, 14.55), (27.5, 14.75)],
    [(9.2, 13.7), (12, 13.95), (14, 13.5), (16, 13.5), (19, 13.6), (21, 14.1), (23, 13.8), (25.5, 13.8), (27, 14.2), (28.5, 13.4)],
    [(10, 13.2), (12, 13.45), (14.5, 13.0), (17, 13.3), (19, 12.6), (21.5, 12.85), (23, 13.1), (25, 12.9), (26.5, 13.35)],
    [(9.5, 14.2), (11, 13.9), (13, 14.3), (15, 14.1), (17, 14.4), (19.5, 14.1), (21.5, 14.3), (24, 14.4), (25, 15.0), (26.5, 14.9), (27.5, 15.2)],
    [(9.4, 13.55), (11, 13.15), (12.5, 13.5), (14, 13.3), (16, 13.9), (18, 13.5), (20.5, 13.6), (22, 13.3), (24.5, 13.6), (27, 13.9), (28, 13.1)],
    [(9.8, 14.0), (12, 13.75), (14.5, 13.9), (17, 13.7), (19, 14.0), (22, 13.8), (24, 14.0), (26, 14.15), (27, 13.8)],
    [(9.1, 13.95), (10.5, 14.5), (14, 14.0), (16.5, 14.85), (18.5, 14.6), (20, 14.95), (21.5, 14.5), (24, 14.9), (26, 14.75)],
    [(11, 13.0), (13, 12.6), (15, 12.75), (16.5, 12.4), (18, 12.7), (20.5, 12.75), (22.5, 12.65)],
    [(9.4, 14.3), (12, 14.6), (15, 14.0), (18, 14.3), (21, 14.0), (23.5, 14.35), (25.5, 14.2), (27.5, 14.1)],
    [(9.6, 13.65), (12, 13.9), (15.5, 13.7), (19, 13.4), (21.5, 13.8), (24, 13.5), (26.5, 13.75)],
]

panels = [
    (ab_eyelink, ab_eyetribe),
    (am_eyelink, am_eyetribe),
    (ed_eyelink, ed_eyetribe),
    (kg_eyelink, kg_eyetribe),
    (ma_eyelink, ma_eyetribe),
]

# ---- layout (pixels of the 698 x 1399 figure) ----
W, H = 698, 1399
col_left = [38, 415]
ax_w, ax_h = 292, 225
row_top = [27, 309, 592, 875, 1157]
line_colors = ["#3a5e9e", "#b3141a"]
line_widths = [0.7, 0.6]


def draw_panel(ax, traces, color, lw):
    for tr in traces:
        xs = [p[0] for p in tr]
        ys = [p[1] for p in tr]
        ax.plot(xs, ys, color=color, lw=lw, alpha=0.9, zorder=2)
    (hx0, hx1, hy), (vx, vy0, vy1) = fix_cross
    ax.plot([hx0, hx1], [hy, hy], color="#8cc063", lw=1.0, zorder=4, alpha=0.9)
    ax.plot([vx, vx], [vy0, vy1], color="#8cc063", lw=1.0, zorder=4, alpha=0.9)
    ax.add_patch(Ellipse(target_xy, target_size[0], target_size[1],
                         facecolor="#72b03e", edgecolor="none", alpha=0.68, zorder=3))
    ax.set_xlim(0, 36.2)
    ax.set_ylim(12, 16)
    ax.set_xticks(x_ticks)
    ax.set_yticks(y_ticks)
    ax.set_yticklabels(["%.1f" % v for v in y_ticks])
    ax.tick_params(direction="in", length=2.5, width=0.5, labelsize=4.3, colors="#888888",
                   labelcolor="#333333", top=True, right=True, pad=1.5)
    for s in ax.spines.values():
        s.set_color("#888888")
        s.set_linewidth(0.8)
    ax.set_xlabel("horizontal position (degrees of VA)", fontsize=4.6, color="#222222", labelpad=1.5)
    ax.set_ylabel("vertical position (degrees of VA)", fontsize=4.6, color="#222222", labelpad=2)


fig = plt.figure(figsize=(W / 100, H / 100), dpi=100)
for r, (subj, pair) in enumerate(zip(subjects, panels)):
    for c in range(2):
        x0 = col_left[c]
        top = row_top[r]
        ax = fig.add_axes([x0 / W, 1 - (top + ax_h) / H, ax_w / W, ax_h / H])
        draw_panel(ax, pair[c], line_colors[c], line_widths[c])
    yc = row_top[r] + ax_h / 2 + 11
    fig.text(346 / W, 1 - yc / H, subj, fontsize=17, family=["Open Sans", "DejaVu Sans"],
             ha="left", va="center", color="black")

fig.text(171 / W, 1 - 14 / H, trackers[0], fontsize=10.5, family=["Open Sans", "DejaVu Sans"],
         ha="center", va="center")
fig.text(548 / W, 1 - 14 / H, trackers[1], fontsize=10.5, family=["Open Sans", "DejaVu Sans"],
         ha="center", va="center")

fig.savefig("out.png", dpi=100)
